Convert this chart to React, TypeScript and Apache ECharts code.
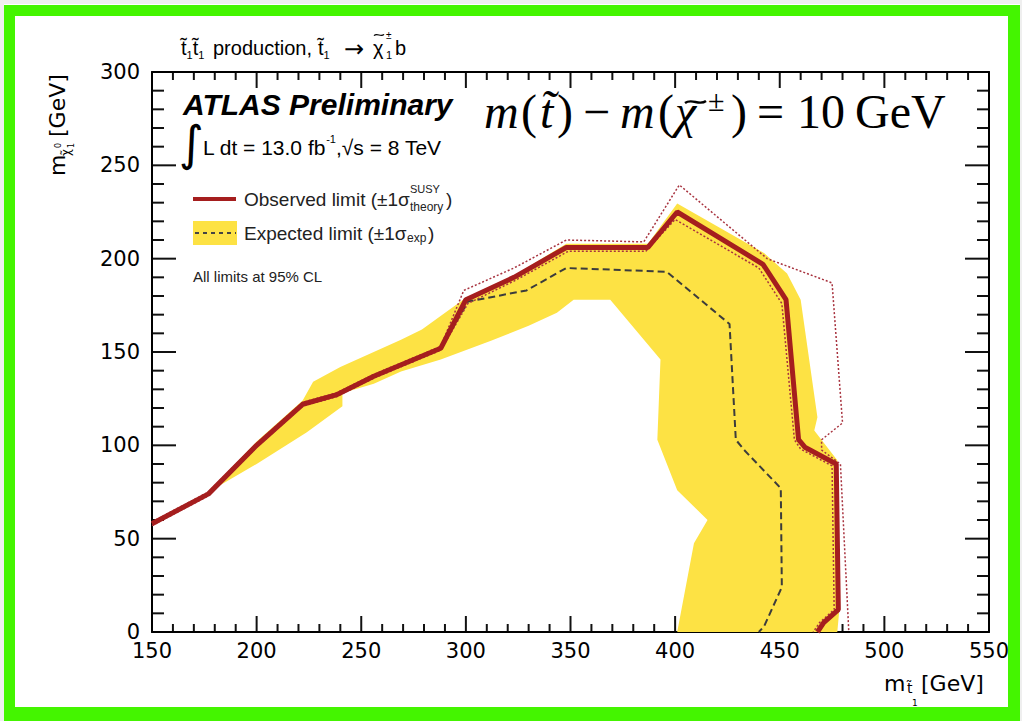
import React, { useEffect, useRef } from "react";
import * as echarts from "echarts";

// Axis ticks
const xTicks = [150, 200, 250, 300, 350, 400, 450, 500, 550];
const yTicks = [0, 50, 100, 150, 200, 250, 300];
const MINOR_PER_MAJOR = 5;

// Observed limit (thick red)
const obsX = [150, 177, 200, 222, 238, 256, 288, 300, 323, 348, 387, 401, 442, 453, 459, 462, 477, 478, 471, 468];
const obsY = [58, 74, 100, 122, 127, 137, 152, 178, 190, 206, 206, 225, 197, 178, 103, 99, 90, 12, 5, 0];

// Observed +1 sigma theory (dotted)
const upX = [150, 177, 200, 222, 238, 256, 288, 299, 323, 348, 385, 402, 444, 475, 480, 470, 470, 479, 483];
const upY = [59, 75, 101, 123, 128, 138, 153, 183, 195, 210, 209, 239.5, 200, 187, 112, 103, 97.5, 90, 0];

// Observed -1 sigma theory (dotted)
const lowX = [150, 177, 200, 222, 238, 256, 288, 301, 323, 349, 386, 400, 440, 451, 457, 460, 475, 476, 469, 466];
const lowY = [57, 73, 99, 121, 126, 136, 151, 176, 188, 204, 204, 221, 195, 176, 103, 98, 89, 12, 5, 0];

// Expected limit (dashed)
const expX = [150, 177, 200, 222, 238, 256, 288, 301, 329, 348, 396, 426, 429, 433, 450.5, 451, 442.5, 440];
const expY = [58, 74, 100, 122, 127, 137, 152, 177, 183, 195, 193, 165, 103, 97.5, 77, 24, 3, 0];

// Expected +-1 sigma band (closed polygon)
const bandX = [177, 200, 222, 227, 240, 269, 279, 300, 323, 348, 387, 401, 442.5, 453.5, 460, 468, 466.5, 477.5, 478.5, 477.5,
  401, 409, 415.5, 401, 391.5, 393, 369, 351.5, 343.5, 330, 312, 288, 269, 256, 241, 241, 224, 200, 177];
const bandY = [75, 102, 124, 134, 142, 156.5, 162, 179, 191, 208, 208, 229.5, 203, 192, 178, 115, 108, 92, 12, 0,
  0, 47.5, 60, 76, 103, 146, 178, 178, 171, 164, 156, 146, 139.5, 133, 128, 121, 107, 90, 75];

const zip = (xs: number[], ys: number[]) => xs.map((x, i) => [x, ys[i]]);

const RED = "#a51e1e";
const YELLOW = "#fde244";
const GREEN = "#44f500";
const TICK = "#111111";
const SANS = "Liberation Sans";
const SERIF = "Liberation Serif";
const AXF = "DejaVu Sans";

const txt = (x: number, y: number, text: string, fontSize: number, extra: any = {}) => ({
  type: "text",
  x,
  y,
  style: {
    text,
    fontSize,
    fontFamily: SANS,
    fill: "#000",
    align: "left",
    verticalAlign: "middle",
    ...extra,
  },
});

const tilde = (x: number, y: number, w: number, a: number, lw: number) => ({
  type: "bezierCurve",
  shape: {
    x1: x,
    y1: y + a * 0.4,
    cpx1: x + w * 0.33,
    cpy1: y - a * 1.6,
    cpx2: x + w * 0.67,
    cpy2: y + a * 1.6,
    x2: x + w,
    y2: y - a * 0.4,
  },
  style: { stroke: "#000", lineWidth: lw, fill: null },
});

const strip = (x: number, y: number, width: number, height: number, fill: string) => ({
  type: "rect",
  shape: { x, y, width, height },
  style: { fill },
});

// tick list: [value, isMajor]
const subdivide = (majors: number[]) => {
  const out: number[][] = [];
  for (let i = 0; i < majors.length; i++) {
    out.push([majors[i], 1]);
    if (i < majors.length - 1) {
      const step = (majors[i + 1] - majors[i]) / MINOR_PER_MAJOR;
      for (let k = 1; k < MINOR_PER_MAJOR; k++) out.push([majors[i] + k * step, 0]);
    }
  }
  return out;
};

export default function App() {
  const ref = useRef<HTMLDivElement>(null);
  useEffect(() => {
    document.body.style.margin = "0";
    const chart = echarts.init(ref.current!, null, { renderer: "svg" });
    const band = zip(bandX, bandY);
    const xMin = xTicks[0], xMax = xTicks[xTicks.length - 1];
    const yMin = yTicks[0], yMax = yTicks[yTicks.length - 1];

    const xAxisBase = (pos: string, labels: boolean) => ({
      type: "value",
      position: pos,
      min: xMin,
      max: xMax,
      interval: 50,
      axisLine: { show: true, onZero: false, lineStyle: { color: "#000", width: 2 } },
      axisTick: { show: false },
      splitLine: { show: false },
      axisLabel: {
        show: labels,
        margin: 12,
        color: "#000",
        fontFamily: AXF,
        fontSize: 21,
        lineHeight: 14,
        formatter: (v: number) => (xTicks.includes(v) ? String(v) : ""),
      },
    });
    const yAxisBase = (pos: string, labels: boolean) => ({
      type: "value",
      position: pos,
      min: yMin,
      max: yMax,
      interval: 50,
      axisLine: { show: true, onZero: false, lineStyle: { color: "#000", width: 2 } },
      axisTick: { show: false },
      splitLine: { show: false },
      axisLabel: {
        show: labels,
        margin: 12,
        color: "#000",
        fontFamily: AXF,
        fontSize: 21,
        lineHeight: 14,
        formatter: (v: number) => (yTicks.includes(v) ? String(v) : ""),
      },
    });

    const lineSeries = (data: number[][], color: string, width: number, type: any, z: number) => ({
      type: "line",
      data,
      showSymbol: false,
      symbol: "none",
      z,
      lineStyle: { color, width, type },
    });

    const fIt = { fontFamily: SERIF, fontStyle: "italic" };
    const fUp = { fontFamily: SERIF };

    chart.setOption({
      animation: false,
      backgroundColor: "#fff",
      grid: { left: 152, right: 33, top: 72, bottom: 89 },
      xAxis: [xAxisBase("bottom", true), xAxisBase("top", false)],
      yAxis: [yAxisBase("left", true), yAxisBase("right", false)],
      series: [
        {
          type: "custom",
          z: 1,
          data: band,
          encode: { x: 0, y: 1 },
          renderItem: (params: any, api: any) => {
            if (params.dataIndex !== 0) return null;
            const pts = band.map((p) => api.coord(p));
            return { type: "polygon", shape: { points: pts }, style: { fill: YELLOW } };
          },
        },
        lineSeries(zip(expX, expY), "#3c3c3c", 2, [7, 4], 2),
        lineSeries(zip(upX, upY), "#a8333f", 1.5, [2, 2], 3),
        lineSeries(zip(lowX, lowY), "#a8333f", 1.5, [2, 2], 3),
        lineSeries(zip(obsX, obsY), RED, 5, "solid", 4),
      ],
    });

    // frame ticks on all four sides, positioned with the grid's own scales
    const TW = 2;
    const toPx = (p: number[]) => chart.convertToPixel({ gridIndex: 0 }, p) as number[];
    const tickEls: any[] = [];
    for (const [v, major] of subdivide(xTicks)) {
      const L = major ? 16 : 8;
      const b = toPx([v, yMin]);
      const t = toPx([v, yMax]);
      tickEls.push(strip(b[0] - TW / 2, b[1] - L, TW, L, TICK));
      tickEls.push(strip(t[0] - TW / 2, t[1], TW, L, TICK));
    }
    for (const [v, major] of subdivide(yTicks)) {
      const L = major ? 24 : 12;
      const l = toPx([xMin, v]);
      const r = toPx([xMax, v]);
      tickEls.push(strip(l[0], l[1] - TW / 2, L, TW, TICK));
      tickEls.push(strip(r[0] - L, r[1] - TW / 2, L, TW, TICK));
    }

    chart.setOption({
      graphic: [
        // outer light-gray strip and green frame
        strip(0, 0, 1022, 4, "#efefef"),
        strip(0, 0, 4, 721, "#efefef"),
        strip(4, 5, 1014, 11, GREEN),
        strip(4, 5, 11, 716, GREEN),
        strip(1008, 5, 12, 716, GREEN),
        strip(4, 707, 1016, 14, GREEN),
        strip(1020, 0, 2, 721, "#efefef"),
        ...tickEls,
        // top title: t~1 t~1 production, t~1 -> chi~+-1 b
        {
          type: "text",
          x: 181,
          y: 48,
          style: {
            text: "{n|t\u0303}{s|1}{n|t\u0303}{s|1}",
            align: "left",
            verticalAlign: "middle",
            rich: {
              n: { fontSize: 20, fontFamily: SANS, fill: "#000", lineHeight: 24, verticalAlign: "middle" },
              s: { fontSize: 11, fontFamily: SANS, fill: "#000", lineHeight: 11, verticalAlign: "bottom" },
            },
          },
        },
        txt(213, 48, "production,", 20),
        {
          type: "text",
          x: 318,
          y: 48,
          style: {
            text: "{n|t\u0303}{s|1}",
            align: "left",
            verticalAlign: "middle",
            rich: {
              n: { fontSize: 20, fontFamily: SANS, fill: "#000", lineHeight: 24, verticalAlign: "middle" },
              s: { fontSize: 11, fontFamily: SANS, fill: "#000", lineHeight: 11, verticalAlign: "bottom" },
            },
          },
        },
        txt(344, 49, "\u2192", 24, { fontFamily: AXF }),
        txt(373, 48, "\u03c7", 20),
        tilde(374, 35, 10, 1.6, 1.3),
        txt(386, 35, "\u00b1", 10),
        txt(386, 55, "1", 11),
        txt(395, 48, "b", 20),
        // ATLAS Preliminary
        txt(183, 104, "ATLAS Preliminary", 30, { fontWeight: "bold", fontStyle: "italic" }),
        // integral
        txt(179, 143, "\u222b", 48, { fontFamily: "DejaVu Sans" }),
        {
          type: "text",
          x: 203,
          y: 147,
          style: {
            text: "{n|L dt = 13.0 fb}{p|-1}{n|,\u221as = 8 TeV}",
            align: "left",
            verticalAlign: "middle",
            rich: {
              n: { fontSize: 21, fontFamily: SANS, fill: "#000", lineHeight: 28, verticalAlign: "middle" },
              p: { fontSize: 11, fontFamily: SANS, fill: "#000", lineHeight: 11, verticalAlign: "top" },
            },
          },
        },
        // big formula m(t~) - m(chi~+-) = 10 GeV
        txt(484, 111, "m", 48, fIt),
        txt(521, 111, "(", 48, fUp),
        txt(540, 111, "t\u0303", 48, fIt),
        txt(557, 111, ")", 48, fUp),
        txt(583, 111, "\u2212", 48, fUp),
        txt(620, 111, "m", 48, fIt),
        txt(658, 111, "(", 48, fUp),
        txt(675, 111, "\u03c7", 48, fIt),
        tilde(685, 102, 21, 2.6, 2.4),
        txt(708, 100, "\u00b1", 30, fUp),
        txt(731, 111, ")", 48, fUp),
        txt(757, 111, "=", 48, fUp),
        txt(797, 111, "10", 48, fUp),
        txt(855, 111, "GeV", 48, fUp),
        // legend: observed
        {
          type: "line",
          shape: { x1: 193, y1: 199, x2: 236, y2: 199 },
          style: { stroke: RED, lineWidth: 4 },
        },
        txt(244, 199, "Observed limit (\u00b11\u03c3", 19, { fill: "#222" }),
        txt(410, 189, "SUSY", 11, { fill: "#222" }),
        txt(410, 207, "theory", 12, { fill: "#222" }),
        txt(446, 199, ")", 19, { fill: "#222" }),
        // legend: expected
        {
          type: "rect",
          shape: { x: 193, y: 221, width: 44, height: 24 },
          style: { fill: YELLOW },
        },
        {
          type: "line",
          shape: { x1: 195, y1: 233, x2: 236, y2: 233 },
          style: { stroke: "#444", lineWidth: 2, lineDash: [4, 4] },
        },
        txt(244, 233, "Expected limit (\u00b11\u03c3", 19, { fill: "#222" }),
        txt(407, 238, "exp", 12, { fill: "#222" }),
        txt(428, 233, ")", 19, { fill: "#222" }),
        txt(193, 276, "All limits at 95% CL", 15, { fill: "#222" }),
        // y axis title (rotated)
        {
          type: "group",
          x: 57,
          y: 176,
          rotation: Math.PI / 2,
          children: [
            txt(0, 0, "m", 22, { fontFamily: AXF }),
            txt(20, 9, "\u03c7\u0303", 12, { fontFamily: AXF }),
            txt(28, 1, "0", 8, { fontFamily: AXF }),
            txt(28, 14, "1", 8, { fontFamily: AXF }),
            txt(39, 0, "[GeV]", 22, { fontFamily: AXF }),
          ],
        },
        // x axis title
        txt(884, 683, "m", 22, { fontFamily: AXF }),
        txt(907, 688, "t\u0303", 14, { fontFamily: AXF }),
        txt(912, 703, "1", 9, { fontFamily: AXF }),
        txt(921, 683, "[GeV]", 22, { fontFamily: AXF }),
      ],
    });
    return () => chart.dispose();
  }, []);
  return <div ref={ref} style={{ width: 1022, height: 721 }} />;
}
